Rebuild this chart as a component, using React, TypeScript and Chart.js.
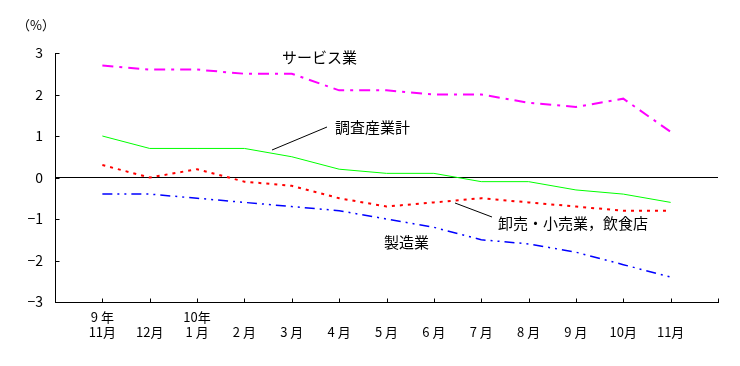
import React, { useEffect, useRef } from "react";
import { Chart, registerables } from "chart.js";

Chart.register(...registerables);

const yearLabels = ["9 年", "", "10年", "", "", "", "", "", "", "", "", "", ""];
const monthLabels = ["11月", "12月", "1 月", "2 月", "3 月", "4 月", "5 月", "6 月", "7 月", "8 月", "9 月", "10月", "11月"];

const service = [2.7, 2.6, 2.6, 2.5, 2.5, 2.1, 2.1, 2.0, 2.0, 1.8, 1.7, 1.9, 1.1];
const total = [1.0, 0.7, 0.7, 0.7, 0.5, 0.2, 0.1, 0.1, -0.1, -0.1, -0.3, -0.4, -0.6];
const wholesale = [0.3, 0.0, 0.2, -0.1, -0.2, -0.5, -0.7, -0.6, -0.5, -0.6, -0.7, -0.8, -0.8];
const manufacturing = [-0.4, -0.4, -0.5, -0.6, -0.7, -0.8, -1.0, -1.2, -1.5, -1.6, -1.8, -2.1, -2.4];

const yTicks = [-3, -2, -1, 0, 1, 2, 3];

const FONT = "'Noto Sans CJK JP', 'Noto Sans', sans-serif";

const pad = (arr: number[]) => [null, ...arr, null];

const overlayPlugin = {
  id: "overlay",
  afterDraw(chart: any) {
    const ctx = chart.ctx;
    const x = chart.scales.x;
    const y = chart.scales.y;
    ctx.save();
    ctx.strokeStyle = "#000";
    ctx.lineWidth = 1;
    // inward ticks on x axis
    const bottom = Math.round(y.getPixelForValue(-3)) + 0.5;
    for (let i = 1; i <= monthLabels.length + 1; i++) {
      const px = Math.round(x.getPixelForValue(i)) + 0.5;
      ctx.beginPath();
      ctx.moveTo(px, bottom);
      ctx.lineTo(px, bottom - 4);
      ctx.stroke();
    }
    // inward ticks on y axis
    const left = Math.round(x.left) + 0.5;
    yTicks.forEach((v) => {
      const py = Math.round(y.getPixelForValue(v)) + 0.5;
      ctx.beginPath();
      ctx.moveTo(left, py);
      ctx.lineTo(left + 4, py);
      ctx.stroke();
    });
    // leader lines
    ctx.beginPath();
    ctx.moveTo(272, 150);
    ctx.lineTo(327, 127);
    ctx.stroke();
    ctx.beginPath();
    ctx.moveTo(455, 203);
    ctx.lineTo(492, 217);
    ctx.stroke();
    // texts
    ctx.fillStyle = "#000";
    ctx.textBaseline = "middle";
    ctx.textAlign = "center";
    ctx.font = `13px ${FONT}`;
    ctx.fillText("（%）", 36, 25);
    ctx.textAlign = "left";
    ctx.font = `15px ${FONT}`;
    ctx.fillText("サービス業", 282, 57);
    ctx.fillText("調査産業計", 335, 127);
    ctx.fillText("卸売・小売業，飲食店", 498, 223);
    ctx.fillText("製造業", 384, 242);
    ctx.restore();
  },
};

export default function App() {
  const ref = useRef<HTMLCanvasElement | null>(null);
  useEffect(() => {
    document.body.style.margin = "0";
    const labels = ["", ...monthLabels, ""];
    const chart = new Chart(ref.current as HTMLCanvasElement, {
      type: "line",
      data: {
        labels,
        datasets: [
          {
            label: "サービス業",
            data: pad(service),
            borderColor: "#ff00ff",
            borderWidth: 2,
            borderDash: [11, 6, 3, 6],
            pointRadius: 0,
            tension: 0,
          },
          {
            label: "調査産業計",
            data: pad(total),
            borderColor: "#00ff00",
            borderWidth: 1,
            pointRadius: 0,
            tension: 0,
          },
          {
            label: "卸売・小売業，飲食店",
            data: pad(wholesale),
            borderColor: "#ff0000",
            borderWidth: 2,
            borderDash: [3, 5],
            pointRadius: 0,
            tension: 0,
          },
          {
            label: "製造業",
            data: pad(manufacturing),
            borderColor: "#0000ff",
            borderWidth: 1.5,
            borderDash: [10, 5, 2, 5, 2, 5],
            pointRadius: 0,
            tension: 0,
          },
        ] as any,
      },
      options: {
        responsive: false,
        animation: false,
        events: [],
        layout: { padding: { top: 53, right: 22, left: 0, bottom: 0 } },
        plugins: { legend: { display: false }, tooltip: { enabled: false } },
        scales: {
          x: {
            type: "category",
            offset: false,
            grid: { display: false, drawTicks: false },
            border: { display: true, color: "#000", width: 1 },
            afterFit: (s: any) => {
              s.height = 64;
            },
            ticks: {
              autoSkip: false,
              maxRotation: 0,
              padding: 8,
              color: "#000",
              font: { family: FONT, size: 13, lineHeight: 1.15 },
              callback: (_v: any, i: number) => {
                if (i === 0 || i > monthLabels.length) return "";
                return [yearLabels[i - 1], monthLabels[i - 1]];
              },
            },
          },
          y: {
            min: -3,
            max: 3,
            grid: {
              drawTicks: false,
              color: (c: any) => (c.tick && c.tick.value === 0 ? "#000" : "rgba(0,0,0,0)"),
              lineWidth: 1,
            },
            border: { display: true, color: "#000", width: 1 },
            afterFit: (s: any) => {
              s.width = 55;
            },
            ticks: {
              stepSize: 1,
              padding: 12,
              color: "#000",
              font: { family: FONT, size: 14 },
              callback: (v: any) => (Number(v) < 0 ? "−" + Math.abs(Number(v)) : String(v)),
            },
          },
        },
      },
      plugins: [overlayPlugin],
    });
    return () => chart.destroy();
  }, []);
  return (
    <div style={{ position: "absolute", left: 0, top: 0 }}>
      <canvas ref={ref} width={740} height={366} style={{ width: 740, height: 366 }} />
    </div>
  );
}
